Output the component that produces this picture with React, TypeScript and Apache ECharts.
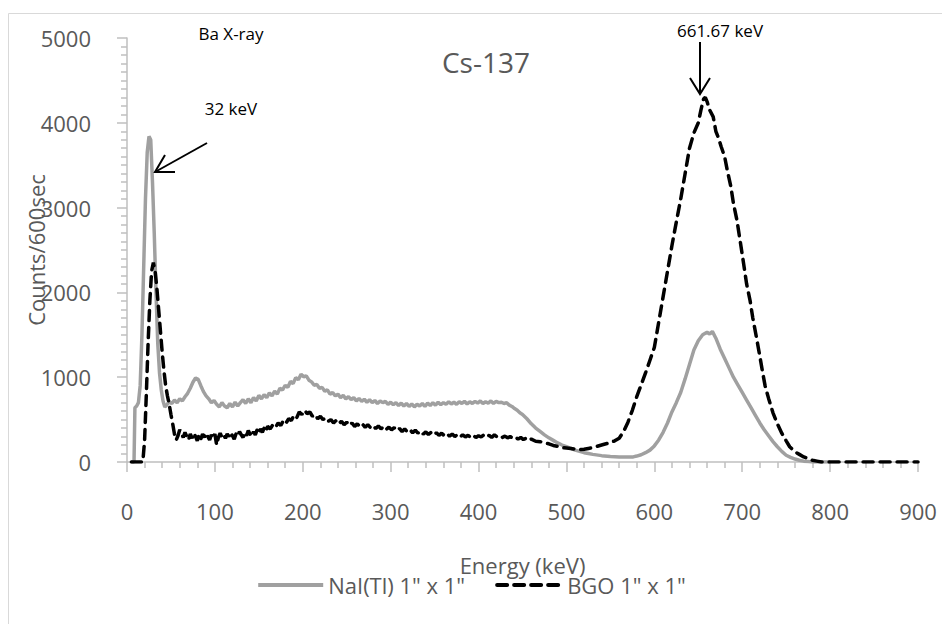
import React, { useEffect, useRef } from "react";
import * as echarts from "echarts";

const chartTitle = "Cs-137";
const xAxisName = "Energy (keV)";
const yAxisName = "Counts/600sec";
const seriesNames = ['NaI(Tl) 1" x 1"', 'BGO 1" x 1"'];
const xTicks = { min: 0, max: 900, interval: 100 };
const yTicks = { min: 0, max: 5000, interval: 1000 };

// [energy keV, counts]
const naiSpectrum: [number, number][] = [
  [5,0],[8,0],[9,640],[11,660],[13,700],[15,900],[17,1500],[19,2300],[21,3100],[23,3650],[25,3840],[27,3800],[29,3300],[31,2700],[33,2000],[35,1400],[37,1050],[39,850],[41,720],[43,650],[45,670],[48,710],[51,690],[54,730],[57,700],[60,745],[63,720],[66,770],[69,810],[72,870],[75,940],[78,990],[81,975],[84,900],[87,830],[90,780],[93,745],[96,700],[99,725],[102,680],[105,650],[108,700],[111,660],[114,640],[117,690],[120,650],[123,705],[126,660],[129,700],[132,735],[135,690],[138,745],[141,700],[144,760],[147,720],[150,785],[153,745],[156,795],[159,760],[162,815],[165,780],[168,835],[171,800],[174,870],[177,850],[180,905],[183,880],[186,950],[189,925],[192,995],[195,970],[198,1035],[201,1005],[204,1015],[207,965],[210,945],[213,905],[216,915],[219,870],[222,880],[225,835],[228,850],[231,800],[234,820],[237,780],[240,800],[243,760],[246,785],[249,745],[252,770],[255,735],[258,760],[261,720],[264,750],[267,715],[270,740],[273,705],[276,735],[279,700],[282,725],[285,690],[288,720],[291,700],[294,715],[297,680],[300,705],[303,675],[306,700],[309,665],[312,695],[315,660],[318,690],[321,655],[324,685],[327,650],[330,680],[333,660],[336,690],[339,655],[342,695],[345,665],[348,700],[351,670],[354,705],[357,675],[360,700],[363,680],[366,710],[369,685],[372,705],[375,680],[378,710],[381,690],[384,715],[387,685],[390,710],[393,690],[396,715],[399,695],[402,720],[405,690],[408,710],[411,695],[414,720],[417,690],[420,715],[423,700],[426,705],[429,690],[432,700],[435,670],[438,655],[441,630],[444,610],[447,580],[450,560],[455,510],[460,450],[465,400],[470,360],[475,320],[480,285],[485,255],[490,225],[495,200],[500,180],[505,160],[510,140],[515,125],[520,110],[525,100],[530,90],[540,75],[550,65],[560,60],[570,58],[576,60],[580,70],[585,85],[590,110],[595,140],[600,190],[605,260],[610,350],[615,460],[620,590],[625,700],[630,820],[635,980],[640,1150],[645,1320],[650,1430],[655,1500],[660,1530],[663,1510],[666,1540],[670,1460],[675,1330],[680,1220],[685,1110],[690,1000],[695,910],[700,820],[705,730],[710,640],[715,550],[720,460],[725,380],[730,310],[735,240],[740,180],[745,125],[750,80],[755,55],[760,35],[765,20],[770,10],[775,5],[780,0],[800,0]
];

const bgoSpectrum: [number, number][] = [
  [5,0],[10,0],[15,0],[18,0],[20,250],[22,800],[24,1400],[26,1900],[28,2250],[30,2350],[32,2250],[34,2050],[36,1800],[38,1550],[40,1300],[42,1080],[44,900],[46,780],[48,680],[50,560],[52,450],[54,330],[56,260],[58,310],[60,380],[62,330],[64,290],[66,350],[68,300],[70,260],[72,330],[74,280],[76,340],[78,300],[80,250],[82,320],[84,270],[86,330],[88,290],[90,340],[92,300],[94,260],[96,320],[98,280],[100,330],[102,200],[104,290],[106,340],[108,290],[110,320],[112,280],[114,330],[116,300],[118,350],[120,310],[122,270],[124,330],[126,300],[128,360],[130,320],[132,290],[134,350],[136,310],[138,370],[140,330],[142,300],[144,360],[146,320],[148,380],[150,340],[152,390],[154,350],[156,400],[158,360],[160,420],[163,390],[166,440],[169,410],[172,460],[175,430],[178,490],[181,460],[184,510],[187,490],[190,550],[193,520],[196,590],[199,560],[202,610],[205,570],[208,590],[211,540],[214,560],[217,510],[220,540],[223,500],[226,520],[229,480],[232,500],[235,460],[238,490],[241,450],[244,480],[247,440],[250,470],[253,430],[256,460],[259,420],[262,450],[265,415],[268,445],[271,410],[274,440],[277,405],[280,430],[283,395],[286,425],[289,390],[292,420],[295,385],[298,410],[301,380],[304,405],[307,370],[310,395],[313,360],[316,390],[319,355],[322,380],[325,345],[328,375],[331,340],[334,365],[337,330],[340,355],[343,325],[346,350],[349,320],[352,345],[355,315],[358,340],[361,310],[364,335],[367,305],[370,330],[373,300],[376,325],[379,295],[382,320],[385,295],[388,315],[391,290],[394,315],[397,290],[400,310],[403,295],[406,320],[409,295],[412,315],[415,290],[418,320],[421,295],[424,310],[427,290],[430,305],[433,285],[436,300],[439,280],[442,295],[445,270],[448,290],[451,265],[454,280],[457,255],[460,270],[465,245],[470,240],[475,225],[480,215],[485,195],[490,185],[495,170],[500,165],[505,160],[510,150],[515,145],[520,150],[525,160],[530,170],[535,185],[540,200],[545,215],[550,230],[555,250],[560,280],[565,360],[570,470],[575,610],[580,770],[585,910],[590,1050],[595,1200],[600,1350],[605,1650],[610,1950],[615,2250],[620,2550],[625,2830],[630,3100],[635,3400],[640,3700],[645,3880],[650,4000],[653,4150],[656,4280],[658,4300],[660,4250],[663,4150],[667,4070],[670,3900],[673,3820],[676,3720],[680,3600],[683,3440],[687,3250],[690,3050],[694,2850],[697,2650],[701,2380],[705,2100],[709,1900],[712,1700],[716,1480],[720,1250],[723,1070],[726,900],[730,750],[735,580],[740,450],[745,340],[750,250],[754,180],[760,120],[765,90],[770,60],[775,40],[780,20],[785,10],[790,0],[900,0]
];

const annotationTexts = ["Ba X-ray", "32 keV", "661.67 keV"];

const FONT = "'Open Sans', 'Noto Sans', sans-serif";
const GRAY_TEXT = "#595959";
const AXIS_GRAY = "#BFBFBF";

export default function App() {
  const ref = useRef<HTMLDivElement>(null);
  useEffect(() => {
    if (!ref.current) return;
    const chart = echarts.init(ref.current, undefined, { renderer: "svg" });
    const arrowStyle = { stroke: "#000", lineWidth: 2, fill: "none" };
    chart.setOption({
      animation: false,
      backgroundColor: "#fff",
      textStyle: { fontFamily: FONT },
      title: {
        text: chartTitle,
        left: 481,
        textAlign: "center",
        top: 43,
        textStyle: { fontSize: 28, fontWeight: "normal", color: GRAY_TEXT, fontFamily: FONT },
      },
      grid: { left: 127, top: 38, width: 791, height: 424, containLabel: false },
      legend: {
        left: "center",
        top: 569,
        itemWidth: 65,
        itemHeight: 14,
        itemGap: 30,
        itemStyle: { opacity: 0 },
        lineStyle: { width: 4 },
        textStyle: { fontSize: 22, color: GRAY_TEXT, fontFamily: FONT },
        data: seriesNames,
      },
      xAxis: {
        type: "value",
        min: xTicks.min,
        max: xTicks.max,
        interval: xTicks.interval,
        name: xAxisName,
        nameLocation: "middle",
        nameGap: 92,
        nameMoveOverlap: false,
        nameTextStyle: { fontSize: 22, color: GRAY_TEXT, fontFamily: FONT },
        axisLine: { show: true, lineStyle: { color: AXIS_GRAY, width: 1.5 } },
        axisTick: { show: true, length: 10, lineStyle: { color: AXIS_GRAY, width: 1.5 } },
        minorTick: { show: true, splitNumber: 5, length: 6, lineStyle: { color: AXIS_GRAY, width: 1.5 } },
        splitLine: { show: false },
        axisLabel: { fontSize: 22, color: GRAY_TEXT, margin: 38, fontFamily: FONT, formatter: (v: number) => String(v) },
      },
      yAxis: {
        type: "value",
        min: yTicks.min,
        max: yTicks.max,
        interval: yTicks.interval,
        name: yAxisName,
        nameLocation: "middle",
        nameGap: 80,
        nameMoveOverlap: false,
        nameTextStyle: { fontSize: 22, color: GRAY_TEXT, fontFamily: FONT },
        axisLine: { show: true, lineStyle: { color: AXIS_GRAY, width: 1.5 } },
        axisTick: { show: true, length: 10, lineStyle: { color: AXIS_GRAY, width: 1.5 } },
        minorTick: { show: true, splitNumber: 10, length: 6, lineStyle: { color: AXIS_GRAY, width: 1.5 } },
        splitLine: { show: false },
        axisLabel: { fontSize: 22, color: GRAY_TEXT, margin: 36, fontFamily: FONT, formatter: (v: number) => String(v) },
      },
      series: [
        {
          name: seriesNames[0],
          type: "line",
          data: naiSpectrum,
          showSymbol: false,
          symbol: "none",
          lineStyle: { color: "#A0A0A0", width: 3.5 },
          itemStyle: { color: "#A0A0A0" },
          z: 2,
        },
        {
          name: seriesNames[1],
          type: "line",
          data: bgoSpectrum,
          showSymbol: false,
          symbol: "none",
          lineStyle: { color: "#000", width: 3.5, type: [10, 7], cap: "round" },
          itemStyle: { color: "#000" },
          z: 3,
        },
      ],
      graphic: [
        {
          type: "rect",
          shape: { x: 8.5, y: 13.5, width: 1000, height: 700 },
          style: { fill: "none", stroke: "#D9D9D9", lineWidth: 1 },
          z: -10,
          silent: true,
        },
        {
          type: "text",
          x: 231,
          y: 33,
          style: { text: annotationTexts[0], fontSize: 17, fill: "#000", textAlign: "center", textVerticalAlign: "middle", fontFamily: FONT },
        },
        {
          type: "text",
          x: 231,
          y: 108,
          style: { text: annotationTexts[1], fontSize: 17, fill: "#000", textAlign: "center", textVerticalAlign: "middle", fontFamily: FONT },
        },
        {
          type: "text",
          x: 720,
          y: 30,
          style: { text: annotationTexts[2], fontSize: 17, fill: "#000", textAlign: "center", textVerticalAlign: "middle", fontFamily: FONT },
        },
        { type: "line", shape: { x1: 207, y1: 143, x2: 155, y2: 172 }, style: arrowStyle, z: 10 },
        { type: "polyline", shape: { points: [[165, 155], [155, 172], [175, 172]] }, style: arrowStyle, z: 10 },
        { type: "line", shape: { x1: 700, y1: 42, x2: 700, y2: 94 }, style: arrowStyle, z: 10 },
        { type: "polyline", shape: { points: [[690, 78], [700, 94], [710, 78]] }, style: arrowStyle, z: 10 },
      ],
    });
    return () => chart.dispose();
  }, []);
  return <div ref={ref} style={{ position: "absolute", left: 0, top: 0, width: 942, height: 624 }} />;
}
